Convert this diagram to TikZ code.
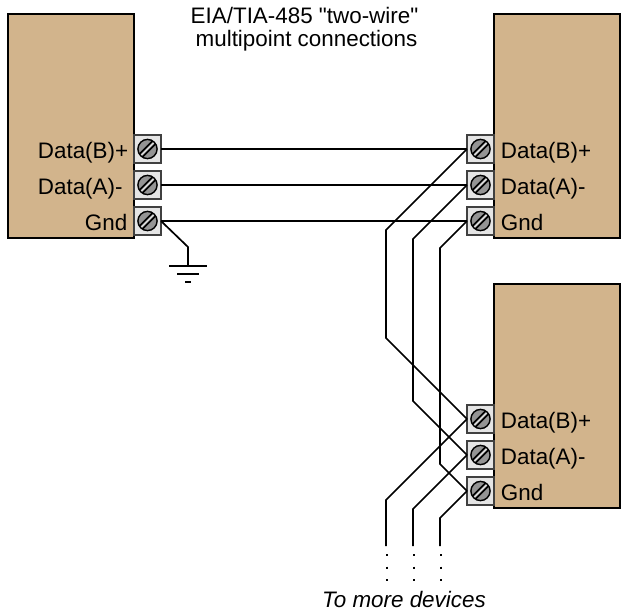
\documentclass[tikz,border=0pt]{standalone}
\usepackage{fontspec}
\setmainfont{Liberation Sans}
\newfontfamily\titlefont{Liberation Sans}
\usetikzlibrary{positioning}
\definecolor{devicetan}{HTML}{D2B48C}
\tikzstyle{device} = [draw=black, fill=devicetan, line width=0.8pt, rectangle, inner sep=0pt, outer sep=0pt, minimum width=63pt, minimum height=112pt, anchor=north west]
\tikzstyle{terminal} = [draw=black!75, fill=black!10, line width=0.7pt, rectangle, inner sep=0pt, outer sep=0pt, minimum width=13.5pt, minimum height=14pt]
\tikzstyle{screw} = [draw=black, fill=black!42, line width=0.7pt, circle, inner sep=0pt, outer sep=0pt, minimum size=9.6pt,
	path picture={
		\draw[black, line width=3pt] ([xshift=-6pt,yshift=-6pt]path picture bounding box.center) -- ([xshift=6pt,yshift=6pt]path picture bounding box.center);
		\draw[black!15, line width=1pt] ([xshift=-6pt,yshift=-6pt]path picture bounding box.center) -- ([xshift=6pt,yshift=6pt]path picture bounding box.center);
	}]
\tikzstyle{wire} = [draw=black, line width=0.85pt]
\tikzstyle{tag} = [anchor=base west, inner sep=0pt, font=\fontsize{11.2}{13}\selectfont]
\tikzstyle{caption} = [anchor=base, inner sep=0pt, font=\fontsize{11.2}{13}\selectfont\titlefont]
\begin{document}
\begin{tikzpicture}[x=0.5pt, y=-0.5pt]
	\useasboundingbox (0,0) rectangle (628,616);
	% devices
	\node [device] (left) at (8,14) {};
	\node [device] (upper) at (494,14) {};
	\node [device] (lower) at (494,284) {};
	% terminals with screws
	\foreach \name/\x/\y in {lb/147.5/149, la/147.5/185, lg/147.5/221, ub/480.5/149, ua/480.5/185, ug/480.5/221, db/480.5/419, da/480.5/455, dg/480.5/491}{
		\node [terminal] (\name) at (\x,\y) {};
		\node [screw] at (\name) {};
	}
	% labels
	\node [tag] (lbtext) at (37.5,158) {Data(B)+};
	\node [tag] (latext) at (37.5,194) {Data(A)-};
	\node [tag] (lgtext) at (84.5,230) {Gnd};
	\foreach \name/\y/\label in {ubtext/158/Data(B)+, uatext/194/Data(A)-, ugtext/230/Gnd, dbtext/428/Data(B)+, datext/464/Data(A)-, dgtext/500/Gnd}{
		\node [tag] (\name) at (500.5,\y) {\label};
	}
	% wires between the first two devices
	\draw [wire] (lb.east) -- (ub.west);
	\draw [wire] (la.east) -- (ua.west);
	\draw [wire] (lg.east) -- (ug.west);
	% wires down to the lower device
	\draw [wire] (ub.west) -- ++(-81,81) -- ++(0,108) -- (db.west);
	\draw [wire] (ua.west) -- ++(-54,54) -- ++(0,162) -- (da.west);
	\draw [wire] (ug.west) -- ++(-27,27) -- ++(0,216) -- (dg.west);
	% wires leaving the lower device
	\coordinate (endb) at (386,546);
	\coordinate (enda) at (413,546);
	\coordinate (endg) at (440,546);
	\draw [wire] (db.west) -- (386,500) -- (endb);
	\draw [wire] (da.west) -- (413,509) -- (enda);
	\draw [wire] (dg.west) -- (440,518) -- (endg);
	\foreach \e in {endb, enda, endg}{
		\draw [black, line width=1pt, dash pattern=on 1pt off 5.25pt] ([xshift=0.5pt,yshift=-4pt]\e) -- ([xshift=0.5pt,yshift=-17.7pt]\e);
	}
	% ground
	\coordinate (gndtop) at (188,266);
	\draw [wire] (lg.east) -- (188,247) -- (gndtop);
	\coordinate (gndmid) at (188,274);
	\coordinate (gndlow) at (188,282);
	\draw [wire] ([xshift=-9.5pt]gndtop) -- ([xshift=9.5pt]gndtop);
	\draw [wire] ([xshift=-5.5pt]gndmid) -- ([xshift=5.5pt]gndmid);
	\draw [wire] ([xshift=-1.5pt]gndlow) -- ([xshift=1.5pt]gndlow);
	% captions
	\node [caption] (title) at (304.5,23) {EIA/TIA-485 "two-wire"};
	\node [caption] (subtitle) at (306.5,46.5) {multipoint connections};
	\node [font=\fontsize{11.2}{13}\selectfont\itshape, inner sep=0pt, anchor=base] (more) at (404,607) {To more devices};
\end{tikzpicture}
\end{document}
